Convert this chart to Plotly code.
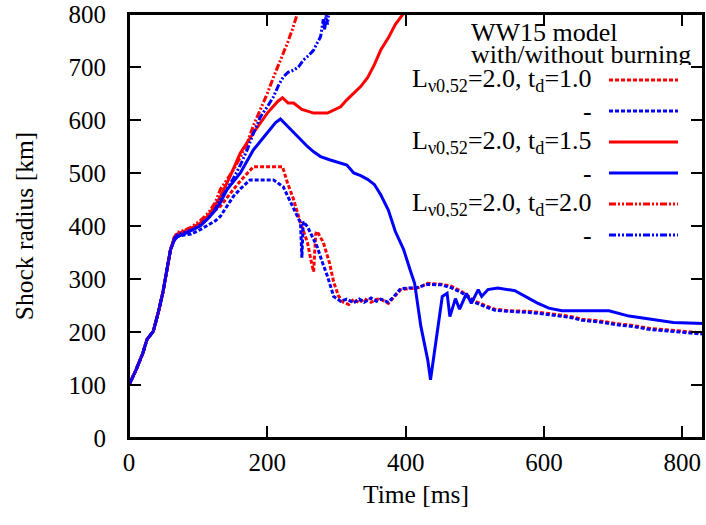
import plotly.graph_objects as go

# ---------------- data ----------------
t_red_dot = [0, 10, 20, 26, 35, 42, 49, 55, 60, 65, 70, 80, 90, 103, 115, 125, 132, 142, 151, 161, 171, 180,
             200, 222, 229, 238, 248, 258, 264, 267, 270, 272, 281, 290, 296, 303, 310, 318, 325, 333, 340,
             350, 358, 364, 375, 385, 393, 405, 417, 432, 451, 465, 480, 490, 500, 515, 529, 550, 578, 600,
             616, 640, 655, 680, 704, 730, 752, 780, 801, 830]
r_red_dot = [100, 128, 160, 186, 201, 235, 275, 320, 355, 375, 385, 390, 395, 406, 420, 430, 437, 455, 469, 485,
             500, 512, 512, 512, 482, 450, 406, 369, 330, 314, 385, 390, 369, 330, 294, 268, 256, 252, 262, 255,
             263, 256, 262, 262, 254, 268, 280, 282, 283, 292, 290, 287, 277, 268, 258, 250, 243, 240, 239, 236,
             233, 229, 224, 221, 216, 212, 207, 204, 201, 198]

t_blue_dot = [0, 10, 20, 26, 35, 42, 49, 55, 60, 65, 70, 80, 90, 103, 115, 125, 132, 142, 151, 161, 171, 175,
              190, 209, 223, 230, 238, 248, 250, 252, 258, 265, 272, 280, 287, 296, 306, 315, 325, 333, 340,
              350, 358, 364, 375, 385, 393, 405, 417, 432, 451, 465, 480, 490, 500, 515, 529, 550, 578, 600,
              616, 640, 655, 680, 704, 730, 752, 780, 801, 830]
r_blue_dot = [100, 128, 160, 186, 201, 235, 275, 320, 355, 372, 380, 383, 385, 393, 403, 410, 418, 437, 456, 470,
              481, 487, 487, 487, 474, 455, 431, 406, 340, 408, 399, 380, 361, 330, 305, 267, 258, 262, 255, 262,
              256, 264, 258, 262, 256, 270, 282, 283, 284, 290, 289, 284, 275, 266, 256, 248, 241, 239, 237, 234,
              231, 227, 222, 219, 214, 210, 205, 202, 199, 196]

t_red_solid = [0, 10, 20, 26, 35, 42, 49, 55, 60, 65, 70, 80, 90, 103, 115, 125, 132, 146, 161, 180, 200, 215,
               222, 230, 238, 250, 267, 287, 300, 306, 315, 325, 335, 345, 355, 364, 375, 385, 397, 402]
r_red_solid = [100, 128, 160, 186, 201, 235, 275, 320, 355, 375, 385, 390, 395, 405, 420, 440, 455, 493, 538, 576,
               613, 635, 642, 632, 632, 620, 613, 613, 622, 625, 638, 651, 663, 680, 705, 732, 755, 780, 800, 810]

t_blue_solid = [0, 10, 20, 26, 35, 42, 49, 55, 60, 65, 70, 80, 90, 103, 115, 125, 132, 142, 161, 180, 200, 212,
                219, 228, 238, 248, 258, 267, 277, 290, 306, 315, 325, 335, 345, 355, 364, 375, 385, 397, 407,
                413, 422, 432, 436, 442, 453, 460, 464, 472, 478, 488, 495, 505, 510, 519, 533, 558, 578, 590,
                607, 626, 650, 694, 723, 752, 787, 830]
r_blue_solid = [100, 128, 160, 186, 201, 235, 275, 320, 355, 372, 380, 385, 392, 400, 415, 430, 444, 469, 500, 544,
                576, 595, 602, 590, 576, 562, 550, 540, 531, 525, 519, 515, 500, 495, 488, 478, 459, 430, 390, 356,
                315, 292, 211, 147, 110, 166, 267, 273, 229, 263, 243, 273, 254, 280, 267, 280, 283, 278, 264, 255,
                245, 240, 240, 240, 230, 224, 218, 216]

t_red_dd = [0, 10, 20, 26, 35, 42, 49, 55, 60, 65, 70, 80, 90, 103, 115, 125, 132, 142, 151, 161, 171, 180, 190,
            200, 209, 219, 229, 236, 243, 247]
r_red_dd = [100, 128, 160, 186, 201, 235, 275, 320, 355, 378, 388, 392, 398, 410, 425, 445, 469, 488, 506, 530,
            557, 590, 619, 650, 681, 712, 745, 770, 800, 815]

t_blue_dd = [0, 10, 20, 26, 35, 42, 49, 55, 60, 65, 70, 80, 90, 103, 115, 125, 132, 142, 151, 161, 171, 180, 190,
             200, 209, 216, 223, 230, 238, 245, 252, 260, 267, 272, 277, 281, 283, 285, 287, 289, 291]
r_blue_dd = [100, 128, 160, 186, 201, 235, 275, 320, 355, 375, 384, 388, 392, 402, 415, 432, 450, 470, 490, 515,
             544, 575, 606, 625, 644, 665, 681, 690, 694, 700, 713, 722, 732, 745, 757, 790, 770, 798, 780, 805, 815]

x_ticks = [0, 200, 400, 600, 800]
y_ticks = [0, 100, 200, 300, 400, 500, 600, 700, 800]

legend_title = ["WW15 model", "with/without burning"]
legend_labels = ["L<sub>ν0,52</sub>=2.0, t<sub>d</sub>=1.0", "-",
                 "L<sub>ν0,52</sub>=2.0, t<sub>d</sub>=1.5", "-",
                 "L<sub>ν0,52</sub>=2.0, t<sub>d</sub>=2.0", "-"]

RED = "#ff0000"
BLUE = "#0000ff"
DOT = "4px,2px"
DD = "7px,2px,2px,2px,2px,2px"

series = [
    (t_red_dot, r_red_dot, RED, DOT),
    (t_blue_dot, r_blue_dot, BLUE, DOT),
    (t_red_solid, r_red_solid, RED, "solid"),
    (t_blue_solid, r_blue_solid, BLUE, "solid"),
    (t_red_dd, r_red_dd, RED, DD),
    (t_blue_dd, r_blue_dd, BLUE, DD),
]

FONT = "Liberation Serif"
FS_TICK = 25
FS_TITLE = 25.5
FS_KEY = 26

fig = go.Figure()
for t, r, c, d in series:
    fig.add_trace(go.Scatter(x=t, y=r, mode="lines", showlegend=False,
                             line=dict(color=c, width=3, dash=d)))

FIG_W, FIG_H = 706, 525
# plot-area edges in window pixels
PL, PR, PT, PB = 129, 703, 14, 438
W, H = PR - PL, PB - PT


def px(xp):
    return (xp - PL) / W


def py(yp):
    return (PB - yp) / H


key_font = dict(family=FONT, size=FS_KEY, color="black")
annotations = []
for txt, yy in zip(legend_title, [32, 54]):
    annotations.append(dict(text=txt, x=px(469), y=py(yy), xref="paper", yref="paper",
                            xanchor="left", yanchor="middle", showarrow=False, height=22,
                            font=key_font))
shapes = [dict(type="rect", xref="paper", yref="paper", x0=0, x1=1, y0=0, y1=1,
               line=dict(color="black", width=2), layer="above")]
row_y = [80, 111, 142, 173, 204, 235]
for i, (lab, (t, r, c, d)) in enumerate(zip(legend_labels, series)):
    annotations.append(dict(text=lab, x=px(594), y=py(row_y[i]), xref="paper", yref="paper",
                            xanchor="right", yanchor="middle", showarrow=False, height=26,
                            font=key_font))
    shapes.append(dict(type="line", xref="paper", yref="paper",
                       x0=px(609), x1=px(678), y0=py(row_y[i]), y1=py(row_y[i]),
                       line=dict(color=c, width=3, dash=d)))

axis_common = dict(showline=True, linecolor="black", linewidth=2, mirror="ticks",
                   ticks="inside", ticklen=12, tickwidth=2, tickcolor="black",
                   showgrid=False, zeroline=False, automargin=False,
                   tickfont=dict(family=FONT, size=FS_TICK, color="black"))

fig.update_layout(
    width=FIG_W, height=FIG_H,
    margin=dict(l=PL, r=FIG_W - PR, t=PT, b=FIG_H - PB),
    paper_bgcolor="white", plot_bgcolor="white",
    xaxis=dict(range=[0, 830], tickvals=x_ticks, ticklabelstandoff=1,
               title=dict(text="Time [ms]", font=dict(family=FONT, size=FS_TITLE, color="black"), standoff=10),
               **axis_common),
    yaxis=dict(range=[0, 800], tickvals=y_ticks, ticklabelstandoff=16,
               title=dict(text="Shock radius [km]", font=dict(family=FONT, size=FS_TITLE, color="black"),
                          standoff=28),
               **axis_common),
    annotations=annotations, shapes=shapes,
)

# remove the default 8px page margin so the figure fills the window exactly
fig.write_html("out.html", config={"displayModeBar": False},
               post_script="document.body.style.margin='0';document.body.style.overflow='hidden';")
